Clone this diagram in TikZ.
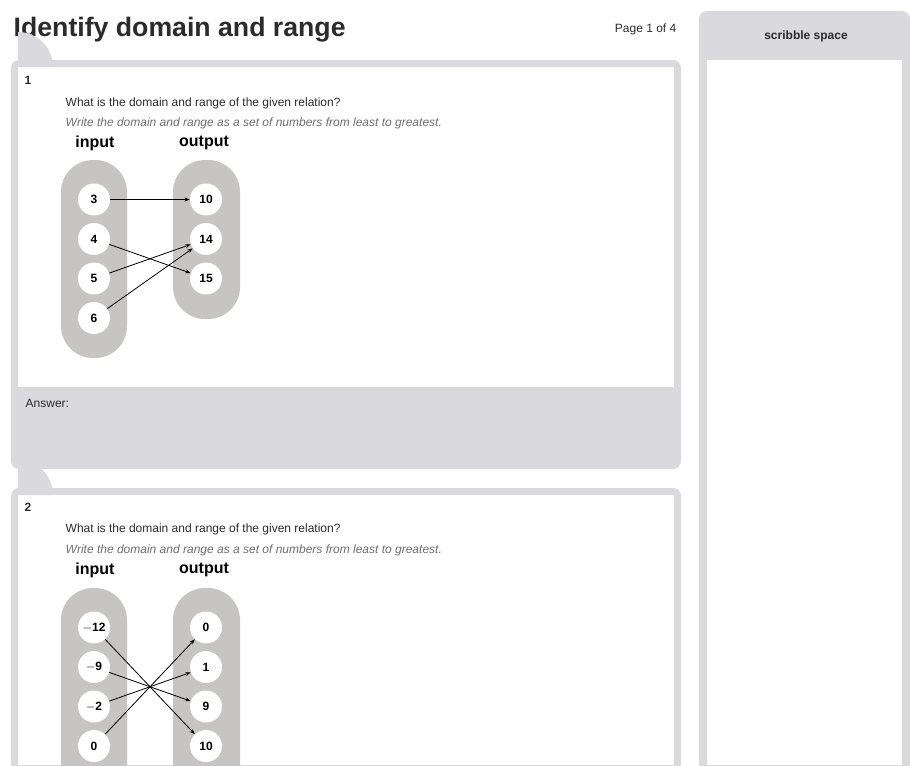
\documentclass[tikz,border=0pt]{standalone}
\usepackage{fontspec}
\setmainfont{Liberation Sans}
\usetikzlibrary{arrows.meta}
\definecolor{card_grey}{HTML}{D9D9DE}
\definecolor{pill_grey}{HTML}{C6C5C3}
\definecolor{text_dark}{HTML}{2B2B2B}
\definecolor{text_soft}{HTML}{6E6E6E}
\tikzset{
  val/.style={circle, fill=white, minimum size=24pt, inner sep=0pt, font=\small},
  pill/.style={fill=pill_grey, rounded corners=24pt},
  maparrow/.style={-{Stealth[length=4pt,width=3pt]}, semithick},
  head/.style={font=\bfseries\large, text=black},
  qtext/.style={anchor=base west, font=\small, text=text_dark},
  hint/.style={anchor=base west, font=\small\itshape, text=text_soft}
}
\begin{document}
\begin{tikzpicture}[x=0.75pt, y=-0.75pt]
  \useasboundingbox (0,0) rectangle (910,765);
  \fill[white] (0,0) rectangle (910,765);

  % header
  \node[anchor=base west, font=\bfseries\fontsize{20}{24}\selectfont, text=text_dark] (title) at (9,36) {Identify domain and range};
  \node[anchor=base east, font=\small, text=text_dark] (page) at (681,32) {Page 1 of 4};

  % scribble space
  \fill[card_grey, rounded corners=6pt] (699,11) rectangle (910,800);
  \fill[white] (707,60) rectangle (902,765);
  \node[font=\bfseries\small, text=text_dark] (scribble) at (806,36) {scribble space};

  % question 1
  \fill[card_grey, rounded corners=6pt] (11,60) rectangle (681,469);
  \fill[white] (18,67) rectangle (674,387);
  \fill[card_grey] (18,67) -- (53,67) arc[start angle=0, end angle=-90, radius=35] -- cycle;
  \node[font=\bfseries\small, text=text_dark] (n1) at (28,80) {1};
  \node[qtext] (q1) at (61,106) {What is the domain and range of the given relation?};
  \node[hint] (h1) at (61,126) {Write the domain and range as a set of numbers from least to greatest.};
  \node[anchor=base west, font=\small, text=text_dark] (ans1) at (21,407) {Answer:};

  \node[head] (in1) at (95,143) {input};
  \node[head] (out1) at (204,143) {output};
  \fill[pill] (61,160) rectangle (127,358);
  \fill[pill] (173,160) rectangle (240,319);
  \foreach \v [count=\i] in {3,4,5,6}
    \node[val] (a\i) at (94,160+39.5*\i) {$\mathbf{\v}$};
  \foreach \v [count=\i] in {10,14,15}
    \node[val] (b\i) at (206,160+39.5*\i) {$\mathbf{\v}$};
  \draw[maparrow] (a1) -- (b1);
  \draw[maparrow] (a2) -- (b3);
  \draw[maparrow] (a3) -- (b2);
  \draw[maparrow] (a4) -- (b2);

  % question 2
  \fill[card_grey, rounded corners=6pt] (11,488) rectangle (681,800);
  \fill[white] (18,495) rectangle (674,765);
  \fill[card_grey] (18,495) -- (53,495) arc[start angle=0, end angle=-90, radius=35] -- cycle;
  \node[font=\bfseries\small, text=text_dark] (n2) at (28,507) {2};
  \node[qtext] (q2) at (61,532) {What is the domain and range of the given relation?};
  \node[hint] (h2) at (61,553) {Write the domain and range as a set of numbers from least to greatest.};

  \node[head] (in2) at (95,570) {input};
  \node[head] (out2) at (204,570) {output};
  \fill[pill] (61,588) rectangle (127,800);
  \fill[pill] (173,588) rectangle (240,800);
  \foreach \v [count=\i] in {-12,-9,-2,0}
    \node[val] (c\i) at (94,588+39.5*\i) {$\mathbf{\v}$};
  \foreach \v [count=\i] in {0,1,9,10}
    \node[val] (d\i) at (206,588+39.5*\i) {$\mathbf{\v}$};
  \draw[maparrow] (c1) -- (d4);
  \draw[maparrow] (c2) -- (d3);
  \draw[maparrow] (c3) -- (d2);
  \draw[maparrow] (c4) -- (d1);
\end{tikzpicture}
\end{document}
